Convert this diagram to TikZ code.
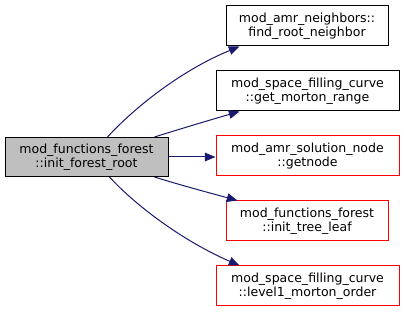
\documentclass[tikz,border=0pt]{standalone}
\usepackage{fontspec}
\setmainfont{DejaVu Sans}
\usetikzlibrary{arrows.meta}
\definecolor{edgeblue}{RGB}{25,25,112}
\definecolor{greyfill}{RGB}{191,191,191}
\begin{document}
\begin{tikzpicture}[x=0.75pt,y=-0.75pt,
  fn/.style={draw=black, line width=0.75pt, align=center, inner sep=0pt,
    font=\fontsize{9.4}{10.5}\selectfont, minimum height=30pt},
  wide/.style={minimum width=137.25pt},
  narrow/.style={minimum width=121.5pt},
  redbox/.style={draw=red},
  call/.style={draw=edgeblue, line width=0.75pt,
    -{Triangle[length=8pt,width=6.5pt]}, fill=none},
]
\useasboundingbox (0,0) rectangle (404,313);
\node[fn, fill=greyfill, minimum width=122.25pt, minimum height=29.25pt] (l) at (86.5,157)
  {mod\_functions\_forest\\::init\_forest\_root};
\node[fn, narrow] (b1) at (307,26) {mod\_amr\_neighbors::\\find\_root\_neighbor};
\node[fn, wide] (b2) at (307.5,91) {mod\_space\_filling\_curve\\::get\_morton\_range};
\node[fn, wide, redbox] (b3) at (307.5,156) {mod\_amr\_solution\_node\\::getnode};
\node[fn, narrow, redbox] (b4) at (307,221) {mod\_functions\_forest\\::init\_tree\_leaf};
\node[fn, wide, redbox] (b5) at (307.5,286) {mod\_space\_filling\_curve\\::level1\_morton\_order};

\draw[call] ([xshift=77.25pt]l.north west) .. controls (135,107) and (182,70) .. ([xshift=10.5pt]b1.south west);
\draw[call] ([xshift=112.5pt]l.north west) .. controls (180,129) and (210,120) .. ([xshift=18pt]b2.south west);
\draw[call] (l.east) -- (l.east -| b3.west);
\draw[call] ([xshift=112.5pt]l.south west) .. controls (180,185) and (210,193) .. ([xshift=9pt]b4.north west);
\draw[call] ([xshift=78.75pt]l.south west) .. controls (137,207) and (185,242) .. ([xshift=18pt]b5.north west);
\end{tikzpicture}
\end{document}
